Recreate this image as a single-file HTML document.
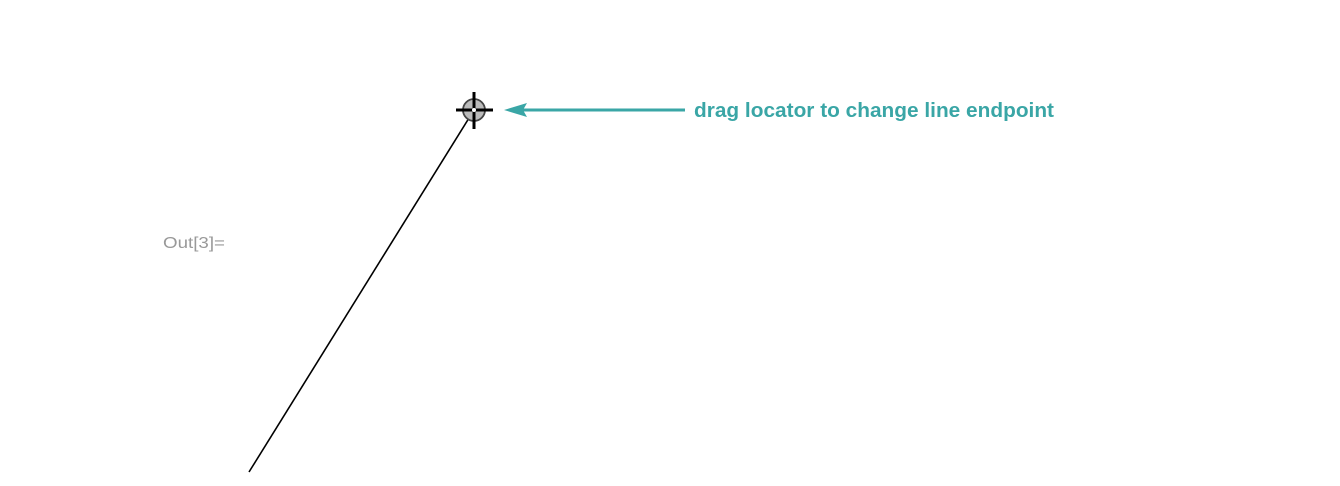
<!DOCTYPE html>
<html><head><meta charset="utf-8"><style>
html,body{margin:0;padding:0;background:#fff;width:1340px;height:486px;overflow:hidden}
</style></head><body>
<svg width="1340" height="486" viewBox="0 0 1340 486" xmlns="http://www.w3.org/2000/svg">
<text x="163" y="248" font-family="Liberation Sans, sans-serif" font-size="16" fill="#999" textLength="62" lengthAdjust="spacingAndGlyphs">Out[3]=</text>
<line x1="249" y1="472" x2="474" y2="110" stroke="#000" stroke-width="1.6"/>
<circle cx="474" cy="110" r="11" fill="#bbb" stroke="#444" stroke-width="1.8"/>
<line x1="456" y1="110" x2="493" y2="110" stroke="#000" stroke-width="3"/>
<line x1="474" y1="92" x2="474" y2="129" stroke="#000" stroke-width="3"/>
<circle cx="474" cy="110" r="2" fill="#fff"/>
<line x1="520" y1="110" x2="685" y2="110" stroke="#3aa6a6" stroke-width="3"/>
<polygon points="504,110 527,103 523,110 527,117" fill="#3aa6a6"/>
<text x="694" y="117" font-family="Liberation Sans, sans-serif" font-size="20" font-weight="bold" fill="#3aa6a6" textLength="360" lengthAdjust="spacingAndGlyphs">drag locator to change line endpoint</text>
</svg>
</body></html>
